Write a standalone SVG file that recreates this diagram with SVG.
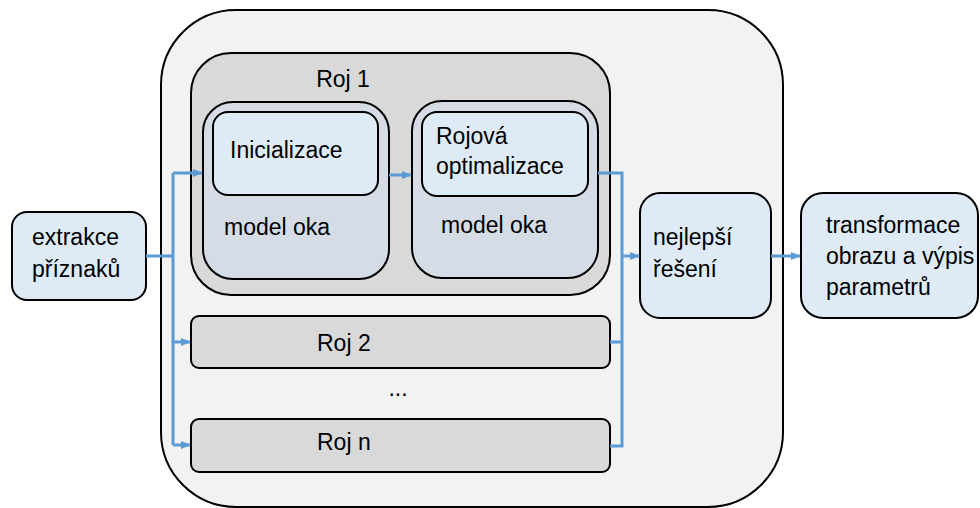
<svg xmlns="http://www.w3.org/2000/svg" width="980" height="508" viewBox="0 0 980 508">
<defs>
<marker id="arr" markerWidth="10" markerHeight="10" refX="9" refY="5" orient="auto" markerUnits="userSpaceOnUse">
<path d="M0,1 L10,5 L0,9 Z" fill="#5b9bd5"/>
</marker>
<style>
.t{font-family:"Liberation Sans",Arial,sans-serif;font-size:23px;fill:#000}
.box{stroke:#000;stroke-width:2}
.c{fill:none;stroke:#5b9bd5;stroke-width:3}
</style>
</defs>
<rect width="980" height="508" fill="#fff"/>
<g id="outer"><rect class="box" x="161" y="10" width="622" height="497" rx="75" fill="#f2f2f2"/></g>
<g id="roj1">
<rect class="box" x="191" y="53" width="419" height="242" rx="40" fill="#d9d9d9"/>
<text class="t" x="343" y="87" text-anchor="middle">Roj 1</text>
</g>
<g id="model1">
<rect class="box" x="203" y="102" width="186" height="177" rx="30" fill="#d6dce5"/>
<text class="t" x="224" y="235">model oka</text>
</g>
<g id="init">
<rect class="box" x="213" y="112" width="165" height="83" rx="15" fill="#deebf7"/>
<text class="t" x="230" y="158">Inicializace</text>
</g>
<g id="model2">
<rect class="box" x="412" y="101" width="186" height="177" rx="30" fill="#d6dce5"/>
<text class="t" x="441" y="233">model oka</text>
</g>
<g id="opt">
<rect class="box" x="422" y="112" width="166" height="84" rx="15" fill="#deebf7"/>
<text class="t" x="436" y="144">Rojová</text>
<text class="t" x="436" y="174">optimalizace</text>
</g>
<g id="roj2">
<rect class="box" x="191" y="316" width="419" height="52" rx="8" fill="#d9d9d9"/>
<text class="t" x="317" y="351">Roj 2</text>
</g>
<g id="dots"><text class="t" x="398" y="396" text-anchor="middle">...</text></g>
<g id="rojn">
<rect class="box" x="191" y="419" width="419" height="53" rx="8" fill="#d9d9d9"/>
<text class="t" x="317" y="450">Roj n</text>
</g>
<g id="extrakce">
<rect class="box" x="12" y="212" width="134" height="88" rx="15" fill="#deebf7"/>
<text class="t" x="32" y="245">extrakce</text>
<text class="t" x="32" y="277">příznaků</text>
</g>
<g id="nejlepsi">
<rect class="box" x="640" y="193" width="131" height="125" rx="20" fill="#deebf7"/>
<text class="t" x="653" y="245">nejlepší</text>
<text class="t" x="653" y="277">řešení</text>
</g>
<g id="transformace">
<rect class="box" x="801" y="193" width="177" height="125" rx="22" fill="#deebf7"/>
<text class="t" x="826" y="233">transformace</text>
<text class="t" x="826" y="264">obrazu a výpis</text>
<text class="t" x="826" y="295">parametrů</text>
</g>
<g id="connectors">
<path class="c" d="M146,256 H173"/>
<path class="c" d="M173,173 V445"/>
<path class="c" d="M173,173 H202" marker-end="url(#arr)"/>
<path class="c" d="M173,342 H190" marker-end="url(#arr)"/>
<path class="c" d="M173,445 H190" marker-end="url(#arr)"/>
<path class="c" d="M389,175 H411" marker-end="url(#arr)"/>
<path class="c" d="M598,173 H622 V446 H610"/>
<path class="c" d="M610,342 H622"/>
<path class="c" d="M622,256 H639" marker-end="url(#arr)"/>
<path class="c" d="M771,256 H800" marker-end="url(#arr)"/>
</g>
</svg>
